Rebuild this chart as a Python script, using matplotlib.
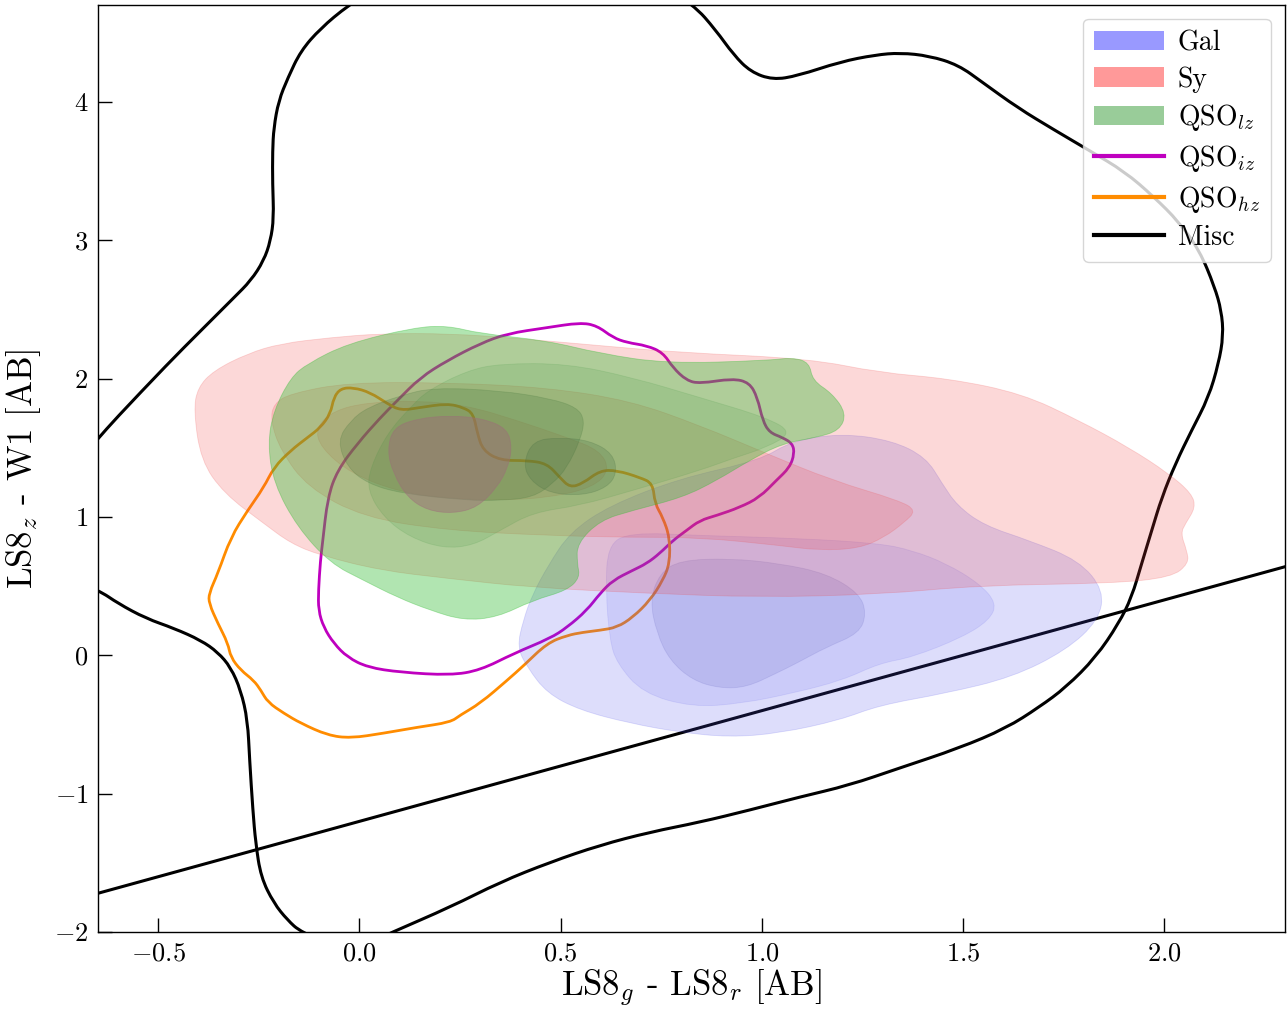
import matplotlib
matplotlib.use("Agg")
import matplotlib.pyplot as plt
from matplotlib.patches import Patch, PathPatch
from matplotlib.lines import Line2D
from matplotlib.path import Path

plt.rcParams['font.family'] = 'serif'
plt.rcParams['font.serif'] = ['cmr10']
plt.rcParams['mathtext.fontset'] = 'cm'
plt.rcParams['axes.formatter.use_mathtext'] = True
plt.rcParams['axes.unicode_minus'] = True

# --- colour-colour contours (g-r, z-W1), one list of (x, y) vertices per level ---

gal_levels = [
    [(0.392, 0.058), (0.407, 0.253), (0.429, 0.433), (0.469, 0.650), (0.523, 0.888),
     (0.622, 1.083), (0.796, 1.278), (0.994, 1.408), (1.076, 1.552), (1.200, 1.603),
     (1.324, 1.552), (1.408, 1.430), (1.448, 1.242), (1.485, 1.083), (1.552, 0.939),
     (1.664, 0.830), (1.788, 0.686), (1.850, 0.469), (1.837, 0.253), (1.756, 0.036),
     (1.622, -0.159), (1.458, -0.274), (1.292, -0.361), (1.193, -0.469), (1.044, -0.563),
     (0.920, -0.592), (0.796, -0.556), (0.672, -0.491), (0.548, -0.397), (0.466, -0.274),
     (0.417, -0.087)],
    [(0.622, 0.108), (0.612, 0.469), (0.617, 0.794), (0.672, 0.888), (0.846, 0.866),
     (1.093, 0.845), (1.292, 0.809), (1.374, 0.758), (1.458, 0.664), (1.540, 0.520),
     (1.584, 0.375), (1.565, 0.253), (1.498, 0.130), (1.374, -0.014), (1.292, -0.058),
     (1.200, -0.181), (1.076, -0.274), (0.952, -0.347), (0.828, -0.375), (0.704, -0.274),
     (0.640, -0.058)],
    [(0.722, 0.397), (0.746, 0.592), (0.796, 0.686), (0.920, 0.700), (1.044, 0.664),
     (1.160, 0.592), (1.242, 0.448), (1.260, 0.303), (1.242, 0.159), (1.160, 0.058),
     (1.086, -0.058), (1.036, -0.130), (0.962, -0.231), (0.895, -0.238), (0.828, -0.181),
     (0.771, -0.036), (0.739, 0.159)],
]

sy_levels = [
    [(-0.412, 1.769), (-0.402, 1.935), (-0.362, 2.058), (-0.278, 2.181), (-0.196, 2.253),
     (-0.072, 2.296), (0.052, 2.325), (0.226, 2.325), (0.399, 2.289), (0.598, 2.238),
     (0.796, 2.188), (1.118, 2.144), (1.292, 2.043), (1.465, 2.000), (1.646, 1.892),
     (1.788, 1.697), (1.912, 1.502), (2.011, 1.314), (2.068, 1.170), (2.078, 1.069),
     (2.053, 0.953), (2.041, 0.881), (2.056, 0.758), (2.061, 0.664), (2.018, 0.563),
     (1.870, 0.520), (1.540, 0.505), (1.292, 0.440), (0.994, 0.419), (0.714, 0.448),
     (0.424, 0.491), (0.218, 0.556), (0.052, 0.614), (-0.097, 0.722), (-0.171, 0.809),
     (-0.238, 0.953), (-0.337, 1.170), (-0.394, 1.408)],
    [(-0.221, 1.697), (-0.213, 1.819), (-0.171, 1.892), (-0.030, 1.971), (0.218, 1.971),
     (0.466, 1.935), (0.672, 1.841), (0.846, 1.661), (1.012, 1.458), (1.175, 1.264),
     (1.341, 1.119), (1.384, 1.047), (1.354, 0.960), (1.304, 0.852), (1.242, 0.773),
     (1.143, 0.758), (1.044, 0.794), (0.846, 0.852), (0.672, 0.852), (0.466, 0.866),
     (0.218, 0.903), (0.010, 0.996), (-0.129, 1.213), (-0.196, 1.480)],
    [(-0.109, 1.646), (-0.064, 1.769), (0.020, 1.827), (0.144, 1.841), (0.268, 1.805),
     (0.392, 1.697), (0.516, 1.574), (0.598, 1.480), (0.622, 1.336), (0.580, 1.213),
     (0.474, 1.141), (0.350, 1.119), (0.226, 1.134), (0.102, 1.177), (-0.022, 1.314),
     (-0.097, 1.502)],
]

# innermost Sy level, sits on top of the QSO_lz core
sy_core = [(0.069, 1.480), (0.084, 1.646), (0.144, 1.711), (0.226, 1.733), (0.307, 1.711),
           (0.367, 1.639), (0.379, 1.502), (0.369, 1.357), (0.342, 1.213), (0.293, 1.069),
           (0.233, 1.025), (0.169, 1.047), (0.119, 1.141), (0.084, 1.314)]

qso_lz_levels = [
    [(-0.171, 2.007), (-0.129, 2.108), (-0.030, 2.253), (0.134, 2.368), (0.218, 2.383),
     (0.300, 2.325), (0.466, 2.274), (0.598, 2.181), (0.764, 2.108), (1.012, 2.130),
     (1.076, 2.152), (1.118, 2.116), (1.126, 1.986), (1.175, 1.892), (1.210, 1.747),
     (1.193, 1.625), (1.136, 1.574), (1.051, 1.531), (0.969, 1.408), (0.888, 1.264),
     (0.803, 1.141), (0.679, 1.047), (0.598, 0.975), (0.541, 0.809), (0.541, 0.664),
     (0.548, 0.563), (0.516, 0.469), (0.431, 0.397), (0.342, 0.274), (0.258, 0.253),
     (0.176, 0.325), (0.094, 0.419), (0.010, 0.542), (-0.072, 0.664), (-0.154, 0.924),
     (-0.213, 1.242), (-0.228, 1.531), (-0.213, 1.769)],
    [(0.169, 1.913), (0.268, 2.058), (0.350, 2.108), (0.516, 2.108), (0.679, 2.007),
     (0.846, 1.863), (1.012, 1.718), (1.076, 1.610), (1.012, 1.502), (0.927, 1.422),
     (0.846, 1.336), (0.679, 1.191), (0.548, 1.083), (0.431, 1.032), (0.350, 0.903),
     (0.283, 0.794), (0.208, 0.773), (0.126, 0.852), (0.060, 0.996), (0.020, 1.191),
     (0.027, 1.357), (0.069, 1.603), (0.126, 1.791)],
    [(-0.055, 1.552), (-0.022, 1.697), (0.020, 1.791), (0.102, 1.877), (0.183, 1.935),
     (0.350, 1.913), (0.474, 1.856), (0.541, 1.791), (0.560, 1.697), (0.548, 1.552),
     (0.516, 1.357), (0.481, 1.242), (0.431, 1.141), (0.350, 1.119), (0.268, 1.119),
     (0.102, 1.170), (0.020, 1.242), (-0.030, 1.357)],
    [(0.407, 1.386), (0.431, 1.552), (0.498, 1.574), (0.573, 1.552), (0.630, 1.458),
     (0.640, 1.314), (0.615, 1.213), (0.555, 1.155), (0.474, 1.170), (0.424, 1.264)],
]

qso_iz = [
    (0.548, 2.404), (0.590, 2.383), (0.630, 2.296), (0.665, 2.260), (0.714, 2.238),
    (0.754, 2.188), (0.779, 2.079), (0.813, 1.986), (0.846, 1.964), (0.927, 2.000),
    (0.969, 1.971), (0.989, 1.863), (1.002, 1.697), (1.019, 1.610), (1.051, 1.574),
    (1.076, 1.531), (1.081, 1.458), (1.069, 1.357), (1.036, 1.264), (0.994, 1.141),
    (0.945, 1.069), (0.888, 1.011), (0.846, 0.975), (0.813, 0.903), (0.779, 0.830),
    (0.746, 0.736), (0.714, 0.664), (0.679, 0.614), (0.630, 0.542), (0.598, 0.448),
    (0.565, 0.325), (0.516, 0.202), (0.474, 0.123), (0.384, 0.014), (0.300, -0.108),
    (0.226, -0.144), (0.102, -0.123), (0.020, -0.087), (-0.030, -0.014), (-0.064, 0.087),
    (-0.089, 0.202), (-0.102, 0.325), (-0.102, 0.469), (-0.097, 0.686), (-0.092, 0.809),
    (-0.079, 1.141), (-0.055, 1.336), (-0.005, 1.531), (0.052, 1.718), (0.094, 1.841),
    (0.151, 2.007), (0.218, 2.130), (0.300, 2.253), (0.367, 2.325), (0.466, 2.368),
]

qso_hz = [
    (-0.047, 1.928), (-0.015, 1.935), (0.027, 1.899), (0.069, 1.819), (0.102, 1.769),
    (0.151, 1.791), (0.218, 1.819), (0.258, 1.791), (0.283, 1.747), (0.293, 1.603),
    (0.307, 1.480), (0.350, 1.408), (0.417, 1.408), (0.466, 1.386), (0.498, 1.285),
    (0.523, 1.213), (0.555, 1.242), (0.598, 1.336), (0.640, 1.336), (0.697, 1.285),
    (0.729, 1.242), (0.734, 1.097), (0.754, 0.996), (0.771, 0.852), (0.771, 0.664),
    (0.754, 0.542), (0.722, 0.397), (0.679, 0.274), (0.640, 0.202), (0.598, 0.181),
    (0.555, 0.166), (0.516, 0.144), (0.466, 0.087), (0.409, -0.072), (0.367, -0.181),
    (0.300, -0.347), (0.250, -0.433), (0.226, -0.484), (0.144, -0.520), (0.060, -0.563),
    (-0.022, -0.599), (-0.079, -0.578), (-0.146, -0.491), (-0.188, -0.419), (-0.228, -0.339),
    (-0.245, -0.253), (-0.263, -0.181), (-0.295, -0.108), (-0.320, -0.014), (-0.327, 0.087),
    (-0.352, 0.231), (-0.374, 0.375), (-0.374, 0.448), (-0.352, 0.592), (-0.320, 0.852),
    (-0.278, 1.047), (-0.238, 1.213), (-0.213, 1.357), (-0.171, 1.480), (-0.129, 1.574),
    (-0.097, 1.646), (-0.072, 1.747), (-0.064, 1.863),
]

# the outer Misc contour runs off the frame in three places
misc = [
    (-0.030, 4.693), (-0.097, 4.530), (-0.146, 4.368), (-0.178, 4.173), (-0.201, 4.007),
    (-0.213, 3.812), (-0.216, 3.646), (-0.216, 3.408), (-0.213, 3.162), (-0.221, 2.996),
    (-0.238, 2.852), (-0.270, 2.708), (-0.312, 2.585), (-0.394, 2.347), (-0.476, 2.108),
    (-0.610, 1.697), (-0.647, 1.574), (-0.760, 1.200), (-0.760, 0.600),
    (-0.647, 0.469), (-0.600, 0.375), (-0.531, 0.267), (-0.461, 0.195), (-0.394, 0.108),
    (-0.352, 0.022), (-0.320, -0.087), (-0.295, -0.253), (-0.278, -0.469), (-0.273, -0.758),
    (-0.265, -1.119), (-0.258, -1.357), (-0.245, -1.603), (-0.213, -1.791), (-0.179, -1.913),
    (-0.146, -2.000), (-0.030, -2.150),
    (0.082, -2.000), (0.226, -1.819), (0.350, -1.639), (0.474, -1.495), (0.598, -1.372),
    (0.722, -1.278), (0.846, -1.206), (0.969, -1.119), (1.093, -1.025), (1.217, -0.939),
    (1.341, -0.816), (1.490, -0.671), (1.607, -0.527), (1.689, -0.375), (1.756, -0.231),
    (1.830, -0.014), (1.887, 0.231), (1.919, 0.419), (1.944, 0.664), (1.969, 0.903),
    (1.994, 1.141), (2.028, 1.386), (2.068, 1.625), (2.110, 1.863), (2.135, 2.108),
    (2.147, 2.311), (2.142, 2.491), (2.125, 2.664), (2.088, 2.924), (2.036, 3.134),
    (1.974, 3.314), (1.902, 3.495), (1.815, 3.646), (1.726, 3.798), (1.636, 3.957),
    (1.550, 4.137), (1.488, 4.267), (1.416, 4.332), (1.344, 4.354), (1.282, 4.339),
    (1.195, 4.289), (1.089, 4.188), (1.027, 4.159), (0.972, 4.217), (0.930, 4.339),
    (0.885, 4.520), (0.831, 4.700), (0.700, 4.950), (0.100, 4.950),
]

# straight selection cut: z-W1 = slope * (g-r) + offset
cut_slope = 0.8
cut_offset = -1.2

gal_colors = [(0.30, 0.30, 0.92), (0.30, 0.30, 0.92), (0.38, 0.38, 0.75)]
gal_alphas = [0.19, 0.12, 0.17]
sy_colors = [(0.94, 0.25, 0.25)] * 3
sy_alphas = [0.20, 0.18, 0.16]
qso_lz_colors = [(0.20, 0.74, 0.20), (0.24, 0.58, 0.24), (0.25, 0.45, 0.22), (0.25, 0.42, 0.25)]
qso_lz_alphas = [0.38, 0.15, 0.22, 0.22]


def smooth_path(verts):
    """Closed path drawn as quadratic Bezier pieces through the edge midpoints."""
    n = len(verts)
    mids = [((verts[i][0] + verts[(i + 1) % n][0]) / 2,
             (verts[i][1] + verts[(i + 1) % n][1]) / 2) for i in range(n)]
    pts = [mids[-1]]
    codes = [Path.MOVETO]
    for i in range(n):
        pts += [verts[i], mids[i]]
        codes += [Path.CURVE3, Path.CURVE3]
    return Path(pts, codes)


def fill_levels(ax, levels, colors, alphas, zorder):
    """Draw nested filled density levels, outermost first."""
    for verts, color, alpha in zip(levels, colors, alphas):
        ax.add_patch(PathPatch(smooth_path(verts), facecolor=color, edgecolor=color,
                               alpha=alpha, lw=0.6, zorder=zorder))


def draw_outline(ax, verts, color, lw=2.0):
    ax.add_patch(PathPatch(smooth_path(verts), fill=False, edgecolor=color,
                           lw=lw, zorder=1))


fig = plt.figure(figsize=(12.87, 10.11), dpi=100)
ax = fig.add_axes([0.0761, 0.0781, 0.9223, 0.917])

draw_outline(ax, misc, 'black', lw=2.2)
ax.axline((0.0, cut_offset), slope=cut_slope, color='black', lw=2.2, zorder=1)
draw_outline(ax, qso_iz, (0.75, 0.0, 0.75))
draw_outline(ax, qso_hz, 'darkorange')

fill_levels(ax, gal_levels, gal_colors, gal_alphas, 2)
fill_levels(ax, sy_levels, sy_colors, sy_alphas, 3)
fill_levels(ax, qso_lz_levels, qso_lz_colors, qso_lz_alphas, 4)
fill_levels(ax, [sy_core], [(0.62, 0.42, 0.48)], [0.45], 5)

ax.set_xlim(-0.65, 2.3)
ax.set_ylim(-2.0, 4.7)
ax.set_xticks([-0.5, 0.0, 0.5, 1.0, 1.5, 2.0])
ax.set_yticks([-2, -1, 0, 1, 2, 3, 4])
ax.tick_params(direction='in', length=10, width=1.0, labelsize=19, pad=7)
for s in ax.spines.values():
    s.set_linewidth(1.0)

ax.set_xlabel(r'LS8$_g$ - LS8$_r$ [AB]', fontsize=25, labelpad=2)
ax.set_ylabel(r'LS8$_z$ - W1 [AB]', fontsize=25, labelpad=8)

handles = [
    Patch(facecolor=(0, 0, 1, 0.4), edgecolor='none', label='Gal'),
    Patch(facecolor=(1, 0, 0, 0.4), edgecolor='none', label='Sy'),
    Patch(facecolor=(0, 0.5, 0, 0.4), edgecolor='none', label=r'QSO$_{lz}$'),
    Line2D([], [], color=(0.75, 0.0, 0.75), lw=3, label=r'QSO$_{iz}$'),
    Line2D([], [], color='darkorange', lw=3, label=r'QSO$_{hz}$'),
    Line2D([], [], color='black', lw=3, label='Misc'),
]
ax.legend(handles=handles, loc='upper right', fontsize=20, handlelength=2.5,
          handletextpad=0.5, labelspacing=0.35, borderpad=0.4, framealpha=0.8)

fig.savefig('out.png', dpi=100)
